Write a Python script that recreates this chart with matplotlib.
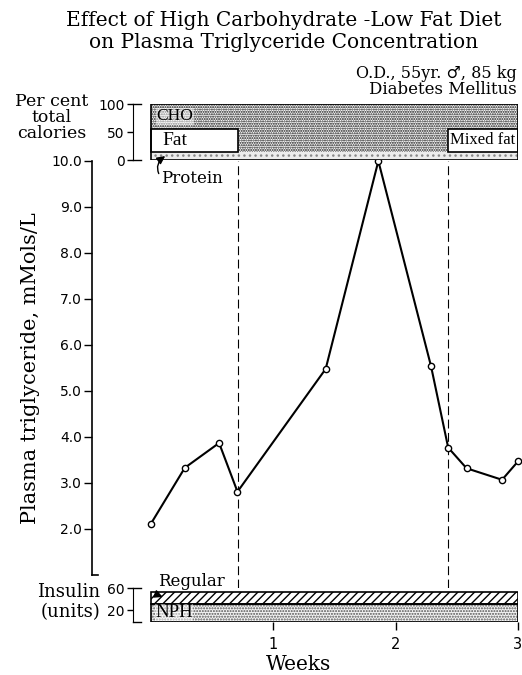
import matplotlib.pyplot as plt
import matplotlib as mpl
import numpy as np

# plasma triglyceride (mMols/L) vs weeks
weeks = [0.0, 0.28, 0.56, 0.71, 1.43, 1.86, 2.29, 2.43, 2.58, 2.87, 3.0]
trig = [2.1, 3.33, 3.87, 2.81, 5.48, 10.0, 5.54, 3.77, 3.32, 3.07, 3.47]
trig_ticks = [2.0, 3.0, 4.0, 5.0, 6.0, 7.0, 8.0, 9.0, 10.0]

# diet phases (per cent of total calories)
phase_start = [0.0, 0.715, 2.43]
phase_end = [0.715, 2.43, 3.0]
protein_pct = [14, 14, 14]
fat_pct = [42, 0, 42]
fat_labels = ['Fat', '', 'Mixed fat']

# insulin (units)
nph_units = 32
regular_units = 20

week_ticks = [1, 2, 3]

mpl.rcParams['hatch.linewidth'] = 1.0
serif = 'DejaVu Serif'
fig = plt.figure(figsize=(5.22, 6.75), dpi=100)
W, H = 522.0, 675.0

def rect(l, t, r, b):
    return [l / W, 1 - b / H, (r - l) / W, (b - t) / H]

# -- main plot
ax = fig.add_axes(rect(91.5, 161, 518, 575))
ax.plot(weeks, trig, color='black', lw=1.5, marker='o', ms=4.5,
        mfc='white', mec='black', mew=1.0, clip_on=False, zorder=5)
for x in phase_start[1:]:
    ax.axvline(x, ymin=-0.031, ymax=1.0, color='black', lw=0.8,
               dashes=(8, 4), clip_on=False)
ax.set_xlim((91.5 - 150.5) / 122.5, 3.0)
ax.set_ylim(1.0, 10.0)
ax.set_yticks(trig_ticks)
ax.set_yticklabels(['%.1f' % v for v in trig_ticks], fontsize=10)
ax.tick_params(axis='y', direction='out', length=6, width=1, pad=1)
ax.set_xticks([])
for s in ['top', 'right', 'bottom']:
    ax.spines[s].set_visible(False)
ax.spines['left'].set_linewidth(1.2)
ax.plot([0, 0.015], [0, 0], color='black', lw=1.2, transform=ax.transAxes, clip_on=False)
ax.set_ylabel('Plasma triglyceride, mMols/L', family=serif, fontsize=15)
ax.yaxis.set_label_coords((40 - 91.5) / 426.5, 0.5)

# -- diet bar
dx = fig.add_axes(rect(133, 104, 518, 160))
dx.set_xlim((133 - 150.5) / 122.5, 3.0)
dx.set_ylim(0, 100)
widths = [e - s for s, e in zip(phase_start, phase_end)]
cho_pct = [100 - p - f for p, f in zip(protein_pct, fat_pct)]
bottoms_cho = [p + f for p, f in zip(protein_pct, fat_pct)]
dx.bar(phase_start, protein_pct, width=widths, align='edge', color='#ececec',
       hatch='...', edgecolor='#888888', lw=0)
dx.bar(phase_start, cho_pct, bottom=bottoms_cho, width=widths, align='edge',
       color='white', hatch='.......', edgecolor='#111111', lw=0)
for s, w, p, f, lab in zip(phase_start, widths, protein_pct, fat_pct, fat_labels):
    if f > 0:
        dx.bar(s, f, bottom=p, width=w, align='edge', color='white',
               edgecolor='black', lw=1.2)
        if lab == 'Fat':
            dx.text(s + 0.1, p + f / 2, lab, family='Liberation Serif',
                    fontsize=14, va='center', ha='left')
        else:
            dx.text(s + w / 2, p + f / 2, lab, family='Liberation Serif',
                    fontsize=12, va='center', ha='center')
dx.bar(0, 100, width=3.0, align='edge', color='none', edgecolor='black', lw=1.2)
dx.text(0.05, 78, 'CHO', family='Liberation Serif', fontsize=12.5, va='center',
        ha='left', bbox=dict(fc='white', ec='none', pad=0.3, alpha=0.5))
dx.annotate('Protein', xy=(0.12, 7), xytext=(0.09, -33), family=serif, fontsize=12,
            va='center', ha='left',
            arrowprops=dict(arrowstyle='-|>', color='black', lw=1,
                            connectionstyle='arc3,rad=-0.5', shrinkA=0, shrinkB=0,
                            relpos=(0, 0.5)),
            annotation_clip=False)
dx.set_yticks([0, 50, 100])
dx.set_yticklabels(['0', '50', '100'], fontsize=10)
dx.tick_params(axis='y', direction='out', length=4, width=1, pad=2)
dx.set_xticks([])
for s in ['top', 'right', 'bottom']:
    dx.spines[s].set_visible(False)
dx.plot([0, 0.02], [0, 0], color='black', lw=1, transform=dx.transAxes, clip_on=False)
dx.plot([0, 0.02], [1, 1], color='black', lw=1, transform=dx.transAxes, clip_on=False)

# -- insulin bar
ix = fig.add_axes(rect(133, 588, 518, 621.7))
ix.set_xlim((133 - 150.5) / 122.5, 3.0)
ix.set_ylim(0, 60)
ix.bar(0, nph_units, width=3.0, align='edge', color='#f4f4f4', hatch='......',
       edgecolor='#555555', lw=0)
ix.bar(0, regular_units, bottom=nph_units, width=3.0, align='edge', color='white',
       hatch='////', edgecolor='black', lw=0)
ix.bar(0, nph_units, width=3.0, align='edge', color='none', edgecolor='black', lw=1.2)
ix.bar(0, regular_units, bottom=nph_units, width=3.0, align='edge', color='none',
       edgecolor='black', lw=1.2)
ix.text(0.04, nph_units / 2, 'NPH', family='Liberation Serif', fontsize=13.5,
        va='center', ha='left', bbox=dict(fc='white', ec='none', pad=0.2, alpha=0.5))
ix.annotate('Regular', xy=(0.1, 44), xytext=(0.06, 71), family=serif,
            fontsize=12, va='center', ha='left',
            arrowprops=dict(arrowstyle='-|>', color='black', lw=1,
                            connectionstyle='arc3,rad=0.6', shrinkA=0, shrinkB=0,
                            relpos=(0, 0.5)),
            annotation_clip=False)
ix.set_yticks([20, 60])
ix.set_yticklabels(['20', '60'], fontsize=10)
ix.tick_params(axis='y', direction='out', length=4, width=1, pad=2)
ix.set_xticks(week_ticks)
ix.set_xticklabels([str(t) for t in week_ticks], fontsize=10.5)
ix.tick_params(axis='x', direction='out', length=6, width=1, pad=5)
for s in ['top', 'right', 'bottom']:
    ix.spines[s].set_visible(False)
ix.plot([0, 0.02], [0, 0], color='black', lw=1, transform=ix.transAxes, clip_on=False)
ix.plot([0, 0.02], [1, 1], color='black', lw=1, transform=ix.transAxes, clip_on=False)

# -- text
fig.text(284 / W, 1 - 20 / H, 'Effect of High Carbohydrate -Low Fat Diet',
         family=serif, fontsize=14.5, ha='center', va='center')
fig.text(284 / W, 1 - 42 / H, 'on Plasma Triglyceride Concentration',
         family=serif, fontsize=14.5, ha='center', va='center')
fig.text(517 / W, 1 - 73 / H, 'O.D., 55yr. \u2642, 85 kg', family=serif,
         fontsize=11.5, ha='right', va='center')
fig.text(517 / W, 1 - 89 / H, 'Diabetes Mellitus', family=serif,
         fontsize=12, ha='right', va='center')
for y, t in zip([101, 117, 133], ['Per cent', 'total', 'calories']):
    fig.text(52 / W, 1 - y / H, t, family=serif, fontsize=12.5, ha='center', va='center')
fig.text(100 / W, 1 - 592 / H, 'Insulin', family=serif, fontsize=13, ha='right', va='center')
fig.text(100 / W, 1 - 612 / H, '(units)', family=serif, fontsize=13, ha='right', va='center')
fig.text(298 / W, 1 - 664 / H, 'Weeks', family=serif, fontsize=14.5, ha='center', va='center')

fig.savefig('out.png', dpi=100)
